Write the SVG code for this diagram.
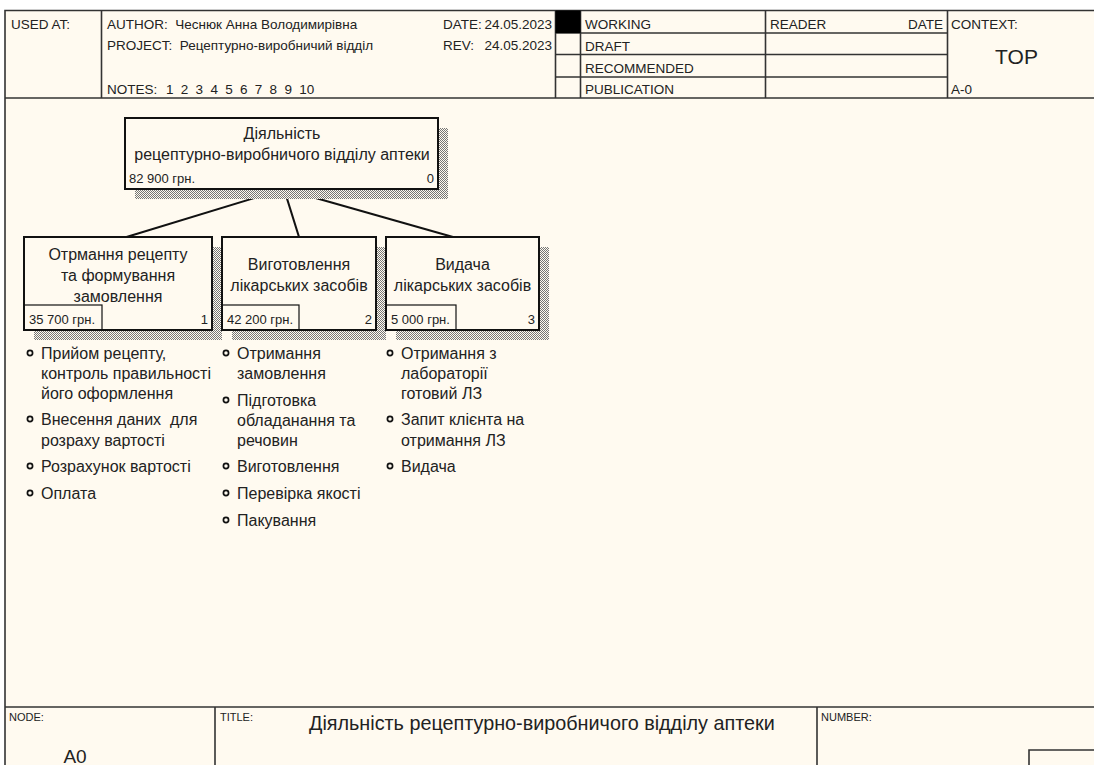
<svg xmlns="http://www.w3.org/2000/svg" width="1094" height="765" viewBox="0 0 1094 765">
<defs>
<pattern id="shade" width="2" height="2" patternUnits="userSpaceOnUse">
<rect width="2" height="2" fill="#fffaf0"/>
<rect width="1" height="1" fill="#767676"/>
<rect x="1" y="1" width="1" height="1" fill="#767676"/>
</pattern>
<style>
text{font-family:"Liberation Sans",Arial,sans-serif;fill:#222}
.hdr{font-size:13.5px}
.lbl{font-size:11px}
.ln{fill:none;stroke:#333;stroke-width:1.6}
.box{fill:#fffaf0;stroke:#111;stroke-width:2}
.shadow{fill:url(#shade)}
.cost{fill:none;stroke:#111;stroke-width:1.2}
.t16{font-size:16px}
.t13{font-size:13px}
.bul{fill:#fffaf0;stroke:#111;stroke-width:1.7}
.conn{stroke:#111;stroke-width:2;fill:none}
</style>
</defs>
<rect width="1094" height="765" fill="#ffffff"/>
<g id="frame">
<rect x="5" y="10.5" width="1089" height="754.5" fill="#fffaf0"/>
<path class="ln" d="M5,765 V10.5 H1094"/>
<line class="ln" x1="5" y1="98" x2="1094" y2="98"/>
<line class="ln" x1="101.5" y1="10.5" x2="101.5" y2="98"/>
<line class="ln" x1="555.5" y1="10.5" x2="555.5" y2="98"/>
<line class="ln" x1="580.5" y1="10.5" x2="580.5" y2="98"/>
<line class="ln" x1="765.5" y1="10.5" x2="765.5" y2="98"/>
<line class="ln" x1="947.5" y1="10.5" x2="947.5" y2="98"/>
<line class="ln" x1="555.5" y1="33" x2="947.5" y2="33"/>
<line class="ln" x1="555.5" y1="54.5" x2="947.5" y2="54.5"/>
<line class="ln" x1="555.5" y1="77" x2="947.5" y2="77"/>
<rect x="555.5" y="10.5" width="25" height="22.5" fill="#000"/>
<text class="hdr" x="11" y="29">USED AT:</text>
<text class="hdr" x="107" y="29" xml:space="preserve">AUTHOR:  Чеснюк Анна Володимирівна</text>
<text class="hdr" x="107" y="50" xml:space="preserve">PROJECT:  Рецептурно-виробничий відділ</text>
<text class="hdr" x="107" y="94">NOTES:</text>
<text class="hdr" x="166 180.8 195.6 210.4 225.2 240 254.8 269.6 284.4 299.2" y="94">12345678910</text>
<text class="hdr" x="443" y="29">DATE:</text>
<text class="hdr" x="552" y="29" text-anchor="end">24.05.2023</text>
<text class="hdr" x="443" y="50">REV:</text>
<text class="hdr" x="552" y="50" text-anchor="end">24.05.2023</text>
<text class="hdr" x="585" y="29">WORKING</text>
<text class="hdr" x="585" y="50.5">DRAFT</text>
<text class="hdr" x="585" y="72.5">RECOMMENDED</text>
<text class="hdr" x="585" y="94">PUBLICATION</text>
<text class="hdr" x="770" y="29">READER</text>
<text class="hdr" x="943" y="29" text-anchor="end">DATE</text>
<text class="hdr" x="951" y="29">CONTEXT:</text>
<text x="1016.5" y="63.5" text-anchor="middle" style="font-size:21px">TOP</text>
<text class="hdr" x="951" y="94">A-0</text>
<line class="ln" x1="5" y1="707" x2="1094" y2="707"/>
<line class="ln" x1="215" y1="707" x2="215" y2="765"/>
<line class="ln" x1="817" y1="707" x2="817" y2="765"/>
<path class="ln" d="M1029,765 V750 H1094"/>
<text class="lbl" x="9" y="721">NODE:</text>
<text class="lbl" x="220" y="721">TITLE:</text>
<text class="lbl" x="821" y="721">NUMBER:</text>
<text x="309" y="730" style="font-size:19.8px">Діяльність рецептурно-виробничого відділу аптеки</text>
<text x="75" y="763" text-anchor="middle" style="font-size:19px">A0</text>
</g>
<g id="connectors">
<line class="conn" x1="284" y1="189" x2="126.5" y2="237"/>
<line class="conn" x1="284" y1="189" x2="299" y2="237"/>
<line class="conn" x1="284" y1="189" x2="453" y2="237"/>
</g>
<g id="node0">
<rect class="shadow" x="135" y="128" width="313" height="71"/>
<rect class="box" x="125" y="118" width="313" height="71"/>
<text class="t16" x="282" y="139" text-anchor="middle">Діяльність</text>
<text class="t16" x="282" y="160" text-anchor="middle">рецептурно-виробничого відділу аптеки</text>
<text class="t13" x="129" y="183">82 900 грн.</text>
<text class="t13" x="434" y="183" text-anchor="end">0</text>
</g>
<g id="node1">
<rect class="shadow" x="34" y="247" width="188" height="93"/>
<rect class="box" x="24" y="237" width="188" height="93"/>
<rect class="cost" x="24" y="305" width="78" height="25"/>
<text class="t16" x="118" y="260" text-anchor="middle">Отрмання рецепту</text>
<text class="t16" x="118" y="281" text-anchor="middle">та формування</text>
<text class="t16" x="118" y="302" text-anchor="middle">замовлення</text>
<text class="t13" x="29" y="324">35 700 грн.</text>
<text class="t13" x="208" y="324" text-anchor="end">1</text>
</g>
<g id="node2">
<rect class="shadow" x="232" y="247" width="154" height="93"/>
<rect class="box" x="222" y="237" width="154" height="93"/>
<rect class="cost" x="222" y="305" width="77" height="25"/>
<text class="t16" x="299" y="270" text-anchor="middle">Виготовлення</text>
<text class="t16" x="299" y="291" text-anchor="middle">лікарських засобів</text>
<text class="t13" x="227" y="324">42 200 грн.</text>
<text class="t13" x="372" y="324" text-anchor="end">2</text>
</g>
<g id="node3">
<rect class="shadow" x="396" y="247" width="153" height="93"/>
<rect class="box" x="386" y="237" width="153" height="93"/>
<rect class="cost" x="386" y="305" width="70" height="25"/>
<text class="t16" x="462.5" y="270" text-anchor="middle">Видача</text>
<text class="t16" x="462.5" y="291" text-anchor="middle">лікарських засобів</text>
<text class="t13" x="391" y="324">5 000 грн.</text>
<text class="t13" x="535" y="324" text-anchor="end">3</text>
</g>
<g id="list1">
<circle class="bul" cx="30" cy="353" r="2.6"/>
<circle class="bul" cx="30" cy="419" r="2.6"/>
<circle class="bul" cx="30" cy="466" r="2.6"/>
<circle class="bul" cx="30" cy="493" r="2.6"/>
<text class="t16" x="41" y="359">Прийом рецепту,</text>
<text class="t16" x="41" y="379">контроль правильності</text>
<text class="t16" x="41" y="399">його оформлення</text>
<text class="t16" x="41" y="425" xml:space="preserve">Внесення даних  для</text>
<text class="t16" x="41" y="446">розраху вартості</text>
<text class="t16" x="41" y="472">Розрахунок вартості</text>
<text class="t16" x="41" y="499">Оплата</text>
</g>
<g id="list2">
<circle class="bul" cx="226" cy="353" r="2.6"/>
<circle class="bul" cx="226" cy="400" r="2.6"/>
<circle class="bul" cx="226" cy="466" r="2.6"/>
<circle class="bul" cx="226" cy="493" r="2.6"/>
<circle class="bul" cx="226" cy="520" r="2.6"/>
<text class="t16" x="237" y="359">Отримання</text>
<text class="t16" x="237" y="379">замовлення</text>
<text class="t16" x="237" y="405.5">Підготовка</text>
<text class="t16" x="237" y="425.5">обладанання та</text>
<text class="t16" x="237" y="446">речовин</text>
<text class="t16" x="237" y="472">Виготовлення</text>
<text class="t16" x="237" y="499">Перевірка якості</text>
<text class="t16" x="237" y="526">Пакування</text>
</g>
<g id="list3">
<circle class="bul" cx="390" cy="353" r="2.6"/>
<circle class="bul" cx="390" cy="419" r="2.6"/>
<circle class="bul" cx="390" cy="466" r="2.6"/>
<text class="t16" x="401" y="359">Отримання з</text>
<text class="t16" x="401" y="379">лабораторії</text>
<text class="t16" x="401" y="399">готовий ЛЗ</text>
<text class="t16" x="401" y="425">Запит клієнта на</text>
<text class="t16" x="401" y="446">отримання ЛЗ</text>
<text class="t16" x="401" y="472">Видача</text>
</g>
</svg>
